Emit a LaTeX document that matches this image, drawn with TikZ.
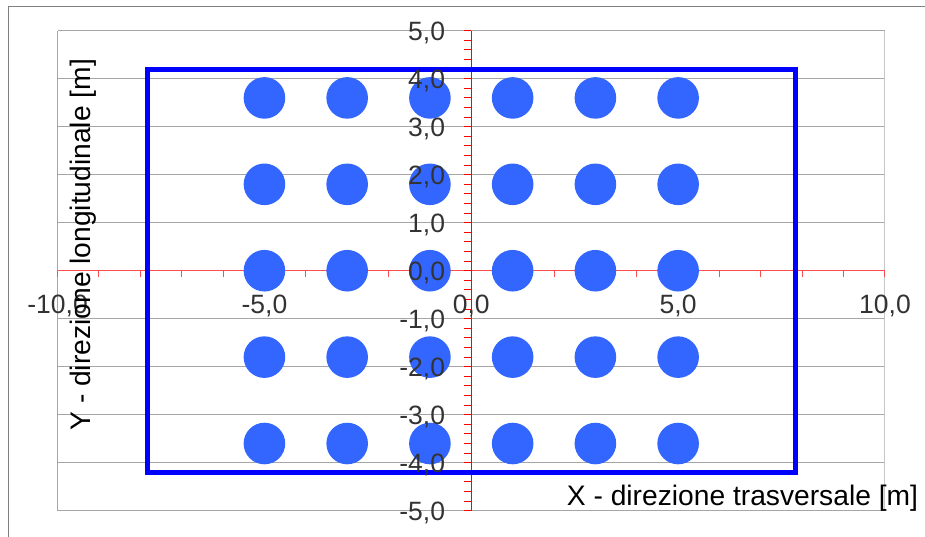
\documentclass[tikz,border=0pt]{standalone}
\usepackage{fontspec}
\setmainfont{Liberation Sans}
\definecolor{pilablu}{RGB}{51,102,255}
\definecolor{numgrigio}{RGB}{51,51,51}
\tikzset{
  griglia/.style={draw=gray!70,line width=1pt},
  asse/.style={red,line width=1pt},
  pila/.style={fill=pilablu},
  numx/.style={anchor=base,inner sep=0pt,yshift=-42.3pt,text=numgrigio,font=\fontsize{26.5}{30}\selectfont},
  numy/.style={anchor=base east,inner sep=0pt,xshift=-26pt,yshift=-9.5pt,text=numgrigio,font=\fontsize{26.5}{30}\selectfont},
  titolo/.style={anchor=base,inner sep=0pt,font=\fontsize{28.2}{32}\selectfont}
}
\begin{document}
\begin{tikzpicture}[x=41.37pt,y=48pt]
\useasboundingbox (-11.392,-5.527) rectangle (10.967,5.640);

% cornice esterna
\draw[gray,line width=1.5pt](-11.19,-5.6)--(-11.19,5.5)--(11.1,5.5);

% griglia
\foreach \y in {-5,...,5}
  \draw[griglia](-10,\y)--(10,\y);
\draw[gray!70,line width=1pt](-10,-5)--(-10,5);
\draw[gray!45,line width=1pt](10,-5)--(10,5);

% assi
\draw[asse,red!70](-10,0)--(10,0);
\foreach \x in {-10,...,10}
  \draw[asse,red!70](\x,0)--++(0,-6pt);
\draw[asse](0,-5)--(0,5);
\foreach \k in {0,...,50}
  \draw[asse](0,-5+0.2*\k)--++(-7pt,0);

% ingombro
\draw[blue,line width=5pt,line join=miter](-7.83,-4.2) rectangle (7.83,4.2);

% pali
\foreach \x in {-5,-3,-1,1,3,5}
  \foreach \y in {3.6,1.8,0,-1.8,-3.6}
    \fill[pila](\x,\y) circle (20.8pt);

% etichette
\node[numx] (xm10) at (-10,0) {-10,0};
\node[numx] (xm5) at (-5,0) {-5,0};
\node[numx] (x0) at (0,0) {0,0};
\node[numx] (x5) at (5,0) {5,0};
\node[numx] (x10) at (10,0) {10,0};

\node[numy] (y5) at (0,5) {5,0};
\node[numy] (y4) at (0,4) {4,0};
\node[numy] (y3) at (0,3) {3,0};
\node[numy] (y2) at (0,2) {2,0};
\node[numy] (y1) at (0,1) {1,0};
\node[numy] (y0) at (0,0) {0,0};
\node[numy] (ym1) at (0,-1) {-1,0};
\node[numy] (ym2) at (0,-2) {-2,0};
\node[numy] (ym3) at (0,-3) {-3,0};
\node[numy] (ym4) at (0,-4) {-4,0};
\node[numy] (ym5) at (0,-5) {-5,0};

\node[titolo,rotate=90] (titoloy) at (-9.193,0.54) {Y - direzione longitudinale [m]};
\node[titolo] (titolox) at (6.555,-4.881) {X - direzione trasversale [m]};

\end{tikzpicture}
\end{document}
